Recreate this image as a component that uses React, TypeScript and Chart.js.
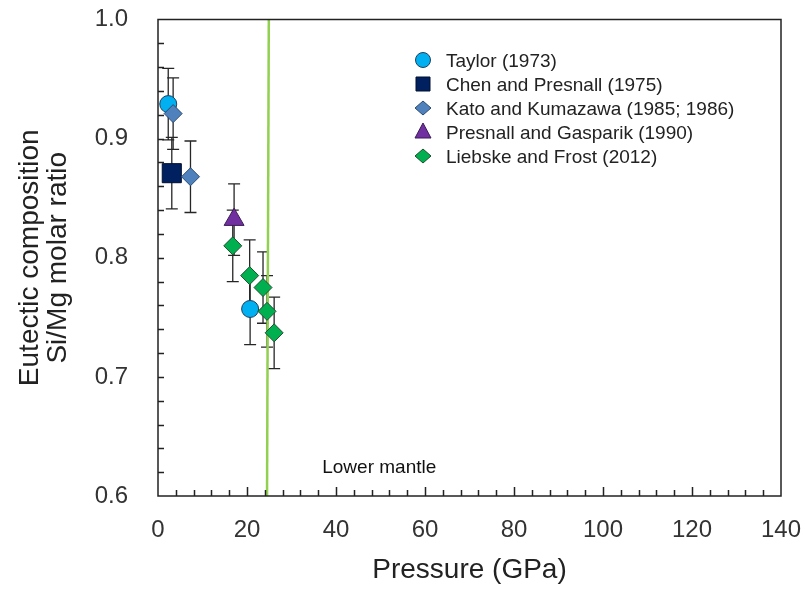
import React, { useEffect, useRef } from "react";
import { Chart, registerables } from "chart.js";

Chart.register(...registerables);

// ---- Data ----
const taylorX = [2.3, 20.7];
const taylorY = [0.929, 0.757];
const taylorErr = [0.03, 0.03];

const chenX = [3.1];
const chenY = [0.871];
const chenErr = [0.03];

const katoX = [3.4, 7.3];
const katoY = [0.921, 0.868];
const katoErr = [0.03, 0.03];

const presnallX = [17.1];
const presnallY = [0.832];
const presnallErr = [0.03];

const liebskeX = [16.8, 20.6, 23.6, 24.5, 26.1];
const liebskeY = [0.81, 0.785, 0.775, 0.755, 0.737];
const liebskeErr = [0.03, 0.03, 0.03, 0.03, 0.03];

const boundaryX = [24.5, 24.9];
const boundaryY = [0.6, 1.0];

const xTickValues = [0, 20, 40, 60, 80, 100, 120, 140];
const yTickValues = [0.6, 0.7, 0.8, 0.9, 1.0];

const seriesNames = [
  "Taylor (1973)",
  "Chen and Presnall (1975)",
  "Kato and Kumazawa (1985; 1986)",
  "Presnall and Gasparik (1990)",
  "Liebske and Frost (2012)",
];

const FONT = "'Liberation Sans', Arial, sans-serif";

function pts(xs: number[], ys: number[], es: number[]) {
  return xs.map((x, i) => ({ x, y: ys[i], e: es[i] }));
}

const framePlugin = {
  id: "frameAndExtras",
  beforeDatasetsDraw(chart: any) {
    const { ctx, scales } = chart;
    const xs = scales.x;
    const ys = scales.y;
    ctx.save();
    ctx.strokeStyle = "#262626";
    ctx.lineWidth = 1.3;
    chart.data.datasets.forEach((ds: any) => {
      if (!ds.errorBars) return;
      ds.data.forEach((p: any) => {
        const px = xs.getPixelForValue(p.x);
        const top = ys.getPixelForValue(p.y + p.e);
        const bot = ys.getPixelForValue(p.y - p.e);
        ctx.beginPath();
        ctx.moveTo(px, top);
        ctx.lineTo(px, bot);
        ctx.moveTo(px - 6, top);
        ctx.lineTo(px + 6, top);
        ctx.moveTo(px - 6, bot);
        ctx.lineTo(px + 6, bot);
        ctx.stroke();
      });
    });
    ctx.restore();
  },
  afterDraw(chart: any) {
    const { ctx, chartArea, scales } = chart;
    const xs = scales.x;
    const ys = scales.y;
    ctx.save();
    ctx.strokeStyle = "#222";
    ctx.lineWidth = 1.5;
    ctx.strokeRect(chartArea.left, chartArea.top, chartArea.right - chartArea.left, chartArea.bottom - chartArea.top);
    ctx.beginPath();
    for (let i = 1; i < 20; i++) {
      const v = 0.6 + i * 0.02;
      const py = Math.round(ys.getPixelForValue(v)) + 0.5;
      ctx.moveTo(chartArea.left, py);
      ctx.lineTo(chartArea.left + 6, py);
    }
    for (let v = 4; v < 140; v += 4) {
      const px = Math.round(xs.getPixelForValue(v)) + 0.5;
      const len = v % 20 === 0 ? 9 : 6;
      ctx.moveTo(px, chartArea.bottom);
      ctx.lineTo(px, chartArea.bottom - len);
    }
    ctx.stroke();

    // annotation
    ctx.fillStyle = "#111";
    ctx.font = `19px ${FONT}`;
    ctx.textBaseline = "middle";
    ctx.textAlign = "left";
    ctx.fillText("Lower mantle", xs.getPixelForValue(36.9), ys.getPixelForValue(0.6235));

    // legend
    const lx = 423;
    const ly0 = 60;
    const dy = 24;
    const sets = chart.data.datasets
      .filter((d: any) => d.inLegend)
      .slice()
      .sort((a: any, b: any) => a.legendOrder - b.legendOrder);
    sets.forEach((ds: any, i: number) => {
      const cy = ly0 + i * dy;
      ctx.fillStyle = ds.backgroundColor;
      ctx.strokeStyle = ds.borderColor;
      ctx.lineWidth = 1;
      ctx.beginPath();
      const st = ds.pointStyle;
      if (st === "circle") {
        ctx.arc(lx, cy, 7.5, 0, Math.PI * 2);
      } else if (st === "rect") {
        ctx.rect(lx - 7, cy - 7, 14, 14);
      } else if (st === "rectRot") {
        ctx.moveTo(lx, cy - 7);
        ctx.lineTo(lx + 8, cy);
        ctx.lineTo(lx, cy + 7);
        ctx.lineTo(lx - 8, cy);
        ctx.closePath();
      } else if (st === "triangle") {
        ctx.moveTo(lx, cy - 9);
        ctx.lineTo(lx + 8, cy + 6);
        ctx.lineTo(lx - 8, cy + 6);
        ctx.closePath();
      }
      ctx.fill();
      ctx.stroke();
      ctx.fillStyle = "#222";
      ctx.font = `19px ${FONT}`;
      ctx.textAlign = "left";
      ctx.textBaseline = "middle";
      ctx.fillText(ds.label, 446, cy + 2);
    });
    ctx.restore();
  },
};

export default function App() {
  const ref = useRef<HTMLCanvasElement | null>(null);
  useEffect(() => {
    if (!ref.current) return;
    const chart = new Chart(ref.current, {
      type: "scatter",
      data: {
        datasets: [
          {
            type: "line",
            label: "boundary",
            data: boundaryX.map((x, i) => ({ x, y: boundaryY[i] })),
            borderColor: "#92D050",
            borderWidth: 2.5,
            pointRadius: 0,
            showLine: true,
            order: 10,
          } as any,
          {
            label: seriesNames[3],
            data: pts(presnallX, presnallY, presnallErr),
            pointStyle: "triangle",
            pointRadius: 11.5,
            backgroundColor: "#7030A0",
            borderColor: "#3b1a55",
            borderWidth: 1,
            errorBars: true,
            inLegend: true,
            legendOrder: 3,
          },
          {
            label: seriesNames[4],
            data: pts(liebskeX, liebskeY, liebskeErr),
            pointStyle: "rectRot",
            pointRadius: 9,
            backgroundColor: "#00B050",
            borderColor: "#1e4d2b",
            borderWidth: 1,
            errorBars: true,
            inLegend: true,
            legendOrder: 4,
          },
          {
            label: seriesNames[2],
            data: pts(katoX, katoY, katoErr),
            pointStyle: "rectRot",
            pointRadius: 9,
            backgroundColor: "#4F81BD",
            borderColor: "#2a4a70",
            borderWidth: 1,
            errorBars: true,
            inLegend: true,
            legendOrder: 2,
          },
          {
            label: seriesNames[1],
            data: pts(chenX, chenY, chenErr),
            pointStyle: "rect",
            pointRadius: 13.5,
            backgroundColor: "#002060",
            borderColor: "#001030",
            borderWidth: 1,
            errorBars: true,
            inLegend: true,
            legendOrder: 1,
          },
          {
            label: seriesNames[0],
            data: pts(taylorX, taylorY, taylorErr),
            pointStyle: "circle",
            pointRadius: 8.5,
            backgroundColor: "#00B0F0",
            borderColor: "#1f3f5f",
            borderWidth: 1,
            errorBars: true,
            inLegend: true,
            legendOrder: 0,
          },
        ] as any,
      },
      options: {
        animation: false,
        responsive: false,
        maintainAspectRatio: false,
        layout: { padding: { left: 0, right: 25, top: 19.5, bottom: 0 } },
        plugins: {
          legend: { display: false },
          tooltip: { enabled: false },
        },
        scales: {
          x: {
            type: "linear",
            min: 0,
            max: 140,
            afterFit: (s: any) => {
              s.height = 97;
              s.paddingLeft = 0;
              s.paddingRight = 0;
            },
            afterBuildTicks: (s: any) => {
              s.ticks = xTickValues.map((v) => ({ value: v }));
            },
            grid: { display: false, drawTicks: false },
            border: { display: false },
            ticks: {
              padding: 20,
              color: "#333",
              font: { family: FONT, size: 24 },
              maxRotation: 0,
              autoSkip: false,
            },
            title: {
              display: true,
              text: "Pressure (GPa)",
              color: "#222",
              font: { family: FONT, size: 28, lineHeight: 1.0 },
              padding: { top: 0, bottom: 9 },
            },
          },
          y: {
            type: "linear",
            min: 0.6,
            max: 1.0,
            afterFit: (s: any) => {
              s.width = 158;
              s.paddingTop = 0;
              s.paddingBottom = 0;
            },
            afterBuildTicks: (s: any) => {
              s.ticks = yTickValues.map((v) => ({ value: v }));
            },
            grid: { display: false, drawTicks: false },
            border: { display: false },
            ticks: {
              padding: 30,
              color: "#333",
              font: { family: FONT, size: 24 },
              autoSkip: false,
              callback: (v: any) => Number(v).toFixed(1),
            },
            title: {
              display: true,
              text: ["Eutectic composition", "Si/Mg molar ratio"],
              color: "#222",
              font: { family: FONT, size: 28, lineHeight: 1.0 },
              padding: { top: 16, bottom: 0 },
            },
          },
        },
      },
      plugins: [framePlugin],
    } as any);
    return () => chart.destroy();
  }, []);
  return (
    <div style={{ position: "fixed", left: 0, top: 0, width: 806, height: 593, background: "#fff" }}>
      <canvas ref={ref} width={806} height={593} style={{ width: 806, height: 593 }} />
    </div>
  );
}
